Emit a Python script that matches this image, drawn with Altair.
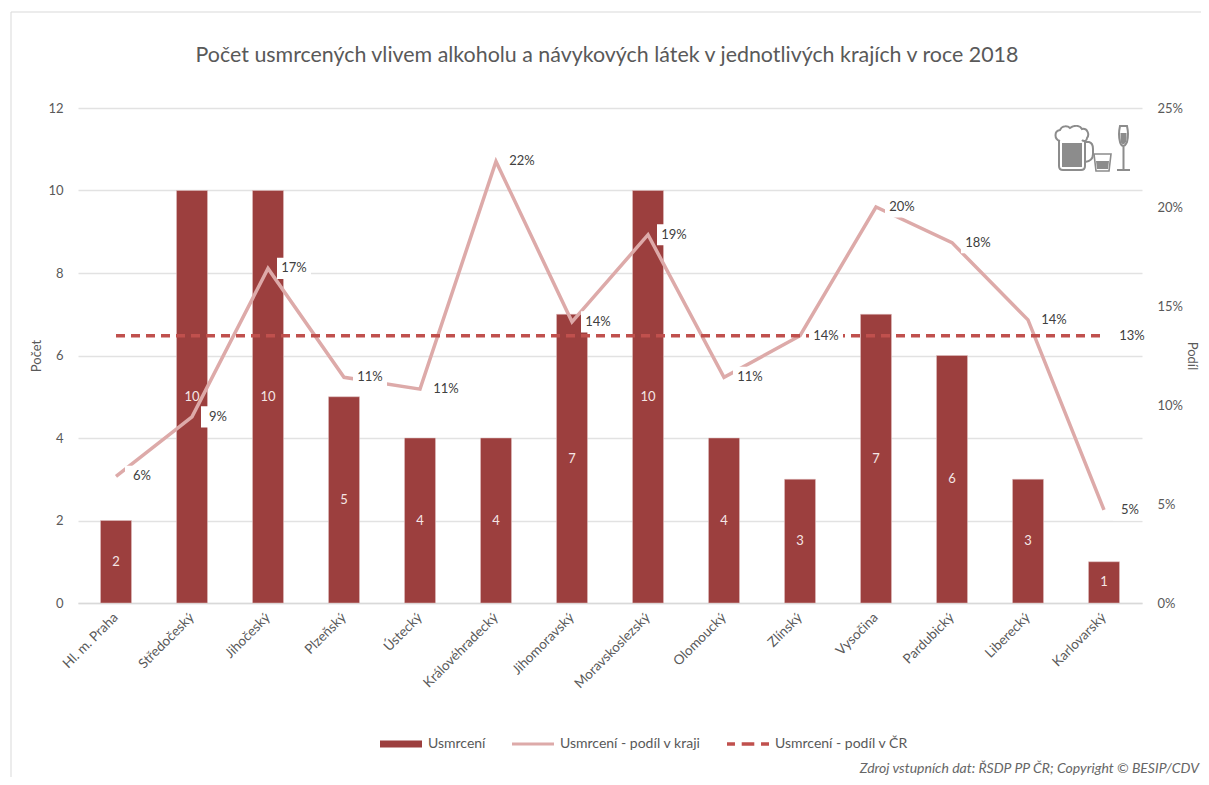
import urllib.parse
import altair as alt
import pandas as pd

title = "Počet usmrcených vlivem alkoholu a návykových látek v jednotlivých krajích v roce 2018"
footnote = "Zdroj vstupních dat: ŘSDP PP ČR; Copyright © BESIP/CDV"
regions = ["Hl. m. Praha", "Středočeský", "Jihočeský", "Plzeňský", "Ústecký", "Královéhradecký",
           "Jihomoravský", "Moravskoslezský", "Olomoucký", "Zlínský", "Vysočina", "Pardubický",
           "Liberecký", "Karlovarský"]
counts = [2, 10, 10, 5, 4, 4, 7, 10, 4, 3, 7, 6, 3, 1]
shares = [6.4, 9.4, 16.9, 11.4, 10.8, 22.3, 14.2, 18.6, 11.4, 13.5, 20.0, 18.2, 14.3, 4.7]
national = [13.5] * 14
series = ["Usmrcení", "Usmrcení - podíl v kraji", "Usmrcení - podíl v ČR"]
series_colors = ["#9C3F3E", "#DDAAA9", "#C0504D"]
series_shapes = ["M-1,-0.17H1V0.17H-1Z",
                 "M-1,-0.07H1V0.07H-1Z",
                 "M-1,-0.08H-0.62V0.08H-1ZM-0.3,-0.08H0.3V0.08H-0.3ZM0.62,-0.08H1V0.08H0.62Z"]

FONT = "Lato"
TXT = "#595959"
DARK = "#404040"
GRID = "#E2E2E2"

df = pd.DataFrame({"kraj": regions, "pocet": counts, "podil": shares, "cr": national})
df["stred"] = df["pocet"] / 2
df["podil_txt"] = df["podil"].round().astype(int).astype(str) + "%"
last = df.iloc[[-1]].copy()
last["cr_txt"] = "13%"

x = alt.X("kraj:N", sort=regions, title=None,
          axis=alt.Axis(labelAngle=-45, labelAlign="right", labelBaseline="middle", labelFont=FONT,
                        labelFontSize=13.5, labelColor=TXT, labelPadding=12, ticks=False,
                        domainColor="#D9D9D9", domainWidth=1.5, labelLimit=200))
y_left = alt.Scale(domain=[0, 12], nice=False)
y_right = alt.Scale(domain=[0, 25], nice=False)

bars = alt.Chart(df).mark_bar(size=31, color=series_colors[0], stroke="#E3C5C4", strokeWidth=0.5).encode(
    x=x,
    y=alt.Y("pocet:Q", scale=y_left, title="Počet",
            axis=alt.Axis(values=[0, 2, 4, 6, 8, 10, 12], grid=True, gridColor=GRID, gridWidth=1.3,
                          domain=False, ticks=False, labelFont=FONT, labelFontSize=13,
                          labelColor=TXT, labelPadding=15, titleFont=FONT, titleFontSize=13,
                          titleColor=TXT, titleFontWeight="normal", titlePadding=4)),
)
bar_text = alt.Chart(df).mark_text(font=FONT, fontSize=13, color="#F5E6E6").encode(
    x=x, y=alt.Y("stred:Q", scale=y_left, axis=None), text="pocet:Q")
legend_layer = alt.Chart(pd.DataFrame({"serie": series})).mark_point(filled=True, opacity=1).encode(
    x=alt.value(-500), y=alt.value(-500),
    color=alt.Color("serie:N", scale=alt.Scale(domain=series, range=series_colors),
                    legend=alt.Legend(title=None, orient="none", legendX=302, legendY=615, direction="horizontal",
                                      columns=3, symbolSize=1764, symbolOpacity=1, symbolStrokeWidth=0,
                                      labelFont=FONT, labelFontSize=14, labelColor=TXT,
                                      labelOffset=6, columnPadding=26)),
    shape=alt.Shape("serie:N", scale=alt.Scale(domain=series, range=series_shapes)),
)

line = alt.Chart(df).mark_line(color=series_colors[1], strokeWidth=3.5).encode(
    x=x,
    y=alt.Y("podil:Q", scale=y_right, title="Podíl",
            axis=alt.Axis(orient="right", values=[0, 5, 10, 15, 20, 25], labelExpr="datum.value + '%'",
                          grid=False, domain=False, ticks=False, labelFont=FONT, labelFontSize=13,
                          labelColor=TXT, labelPadding=15, titleFont=FONT, titleFontSize=13,
                          titleColor=TXT, titleFontWeight="normal", titlePadding=2)),
)
dashed = alt.Chart(df).mark_line(color=series_colors[2], strokeWidth=3.5, strokeDash=[9, 6]).encode(
    x=x, y=alt.Y("cr:Q", scale=y_right, axis=None))
boxes = alt.Chart(df).mark_point(filled=True, color="white", opacity=1, shape="M-1,-0.62H1V0.62H-1Z",
                                 size=1156, xOffset=26).encode(
    x=x, y=alt.Y("podil:Q", scale=y_right, axis=None))
labels = alt.Chart(df).mark_text(font=FONT, fontSize=13, color=DARK, dx=26).encode(
    x=x, y=alt.Y("podil:Q", scale=y_right, axis=None), text="podil_txt:N")
cr_label = alt.Chart(last).mark_text(font=FONT, fontSize=13, color=DARK, dx=28).encode(
    x=x, y=alt.Y("cr:Q", scale=y_right, axis=None), text="cr_txt:N")

# Frame, title, footnote and icon
frame_top = alt.Chart(pd.DataFrame({"a": [0]})).mark_rule(color="#D9D9D9", strokeWidth=1).encode(
    x=alt.value(-67), x2=alt.value(1131), y=alt.value(-96))
frame_left = alt.Chart(pd.DataFrame({"a": [0]})).mark_rule(color="#D9D9D9", strokeWidth=1).encode(
    x=alt.value(-67), y=alt.value(-96), y2=alt.value(677))
title_mark = alt.Chart(pd.DataFrame({"t": [title]})).mark_text(
    font=FONT, fontSize=21.4, color=TXT, align="center").encode(
    x=alt.value(529), y=alt.value(-52), text="t:N")
foot = alt.Chart(pd.DataFrame({"t": [footnote]})).mark_text(
    font=FONT, fontSize=14, fontStyle="italic", color="#666666", align="right").encode(
    x=alt.value(1121), y=alt.value(661), text="t:N")

icon_svg = """<svg xmlns='http://www.w3.org/2000/svg' viewBox='0 0 78 48' width='78' height='48'>
<g fill='none' stroke='#8C8C8C' stroke-width='2'>
<path d='M6 16 C0 14 0 6 6 5 C8 0 14 1 16 3 C20 0 26 0 28 4 C33 3 36 9 33 13 C33 16 30 17 28 15'/>
<path d='M5 16 V41 Q5 45 9 45 H27 Q31 45 31 41 V16'/>
<path d='M31 17 H35 Q39 18 39 24 V29 Q39 36 31 37'/>
<path d='M40 29 H57 L55 46 H42 Z' stroke-width='1.6'/>
<path d='M66 1 H73 Q75 10 73 17 Q71 21 69.500 21 Q67 21 66 17 Q64 10 66 1 Z M69.500 21 V44 M63 45 H76'/>
</g>
<path d='M8 18 H28 V42 H8 Z M42 36 H55 L54 44 H43 Z M66.500 8 H72.500 Q73 13 72 17 Q70 19.500 69 19.500 Q67 19 66.500 16 Z' fill='#8C8C8C'/>
</svg>"""
icon_url = "data:image/svg+xml," + urllib.parse.quote(icon_svg)
icon = alt.Chart(pd.DataFrame({"u": [icon_url]})).mark_image(width=78, height=48, align="left", baseline="top").encode(
    x=alt.value(976), y=alt.value(17), url="u:N")

chart = alt.layer(frame_top, frame_left, bars, bar_text, legend_layer, line, dashed, boxes, labels,
                  cr_label, title_mark, foot, icon).resolve_scale(
    y="independent"
).properties(
    width=1064, height=495,
    padding={"left": 70, "top": 100, "right": 59, "bottom": 174},
    autosize=alt.AutoSizeParams(type="none"),
).configure_view(stroke=None)

chart.save("out.html", embed_options={"renderer": "svg", "actions": False})
